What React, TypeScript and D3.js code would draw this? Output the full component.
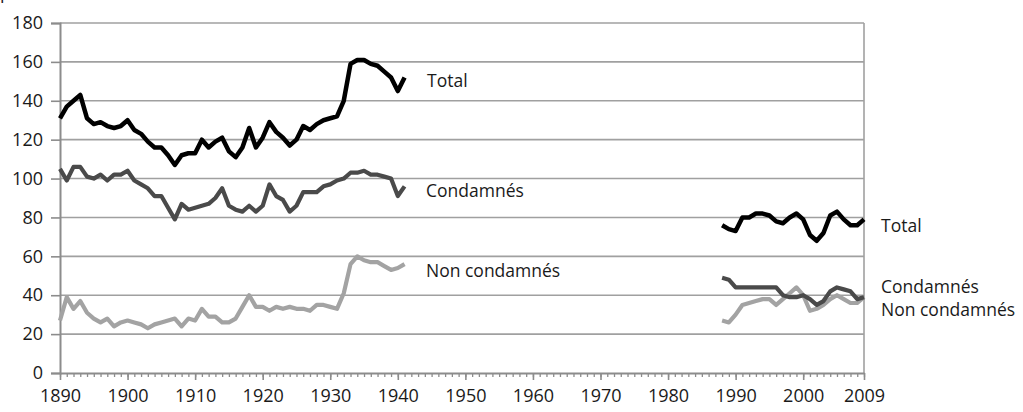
import React, { useEffect, useRef } from "react";
import * as d3 from "d3";

// years of each period
const yearsEarly = d3.range(1890, 1942);
const yearsLate = d3.range(1988, 2010);

// taux pour 100 000 habitants
const totalEarly = [131, 137, 140, 143, 131, 128, 129, 127, 126, 127, 130, 125, 123, 119, 116, 116, 112, 107, 112, 113, 113, 120, 116, 119, 121, 114, 111, 116, 126, 116, 121, 129, 124, 121, 117, 120, 127, 125, 128, 130, 131, 132, 140, 159, 161, 161, 159, 158, 155, 152, 145, 152];
const condEarly = [105, 99, 106, 106, 101, 100, 102, 99, 102, 102, 104, 99, 97, 95, 91, 91, 85, 79, 87, 84, 85, 86, 87, 90, 95, 86, 84, 83, 86, 83, 86, 97, 91, 89, 83, 86, 93, 93, 93, 96, 97, 99, 100, 103, 103, 104, 102, 102, 101, 100, 91, 96];
const nonCondEarly = [27, 39, 33, 37, 31, 28, 26, 28, 24, 26, 27, 26, 25, 23, 25, 26, 27, 28, 24, 28, 27, 33, 29, 29, 26, 26, 28, 34, 40, 34, 34, 32, 34, 33, 34, 33, 33, 32, 35, 35, 34, 33, 41, 56, 60, 58, 57, 57, 55, 53, 54, 56];

const totalLate = [76, 74, 73, 80, 80, 82, 82, 81, 78, 77, 80, 82, 79, 71, 68, 72, 81, 83, 79, 76, 76, 79];
const condLate = [49, 48, 44, 44, 44, 44, 44, 44, 44, 40, 39, 39, 40, 38, 35, 37, 42, 44, 43, 42, 38, 39];
const nonCondLate = [27, 26, 30, 35, 36, 37, 38, 38, 35, 38, 41, 44, 40, 32, 33, 35, 38, 40, 38, 36, 36, 39];

const yTicks = [0, 20, 40, 60, 80, 100, 120, 140, 160, 180];
const xTicks = [1890, 1900, 1910, 1920, 1930, 1940, 1950, 1960, 1970, 1980, 1990, 2000, 2009];

const seriesStyle = [
  { name: "Total", color: "#000000", width: 4.5 },
  { name: "Condamnés", color: "#4a4a4a", width: 4.2 },
  { name: "Non condamnés", color: "#a3a3a3", width: 4.2 },
];

export default function App() {
  const svgRef = useRef(null);

  useEffect(() => {
    const width = 1023;
    const height = 412;
    const left = 60, right = 864, top = 23, bottom = 373;
    const font = "'Open Sans', sans-serif";

    const svg = d3.select(svgRef.current)
      .attr("width", width)
      .attr("height", height)
      .style("font-family", font);
    svg.selectAll("*").remove();

    const x = d3.scaleLinear().domain([1890, 2009]).range([left, right]);
    const y = d3.scaleLinear().domain([0, 180]).range([bottom, top]);

    // caption, cut off at the top as in the source
    svg.append("text")
      .attr("x", 0)
      .attr("y", -1)
      .attr("font-size", 18)
      .attr("fill", "#222")
      .text("pour 100 000 habitants");

    // gridlines
    svg.append("g")
      .selectAll("line")
      .data(yTicks.filter(d => d > 0))
      .join("line")
      .attr("x1", left)
      .attr("x2", right)
      .attr("y1", d => y(d))
      .attr("y2", d => y(d))
      .attr("stroke", "#a0a0a0")
      .attr("stroke-width", 1.6);

    // right border
    svg.append("line")
      .attr("x1", right).attr("x2", right)
      .attr("y1", top).attr("y2", bottom)
      .attr("stroke", "#a0a0a0")
      .attr("stroke-width", 1.6);

    // y axis
    const yAxis = svg.append("g")
      .attr("transform", `translate(${left},0)`)
      .call(d3.axisLeft(y).tickValues(yTicks).tickSize(9).tickPadding(8));
    yAxis.select(".domain").attr("stroke", "#8c8c8c").attr("stroke-width", 2);
    yAxis.selectAll(".tick line").attr("stroke", "#8c8c8c").attr("stroke-width", 1.6);
    yAxis.selectAll("text")
      .attr("font-size", 18)
      .attr("font-family", font)
      .attr("fill", "#1a1a1a");

    // x axis minor ticks (every year)
    const xMinor = svg.append("g")
      .attr("transform", `translate(0,${bottom})`)
      .call(d3.axisBottom(x).tickValues(d3.range(1890, 2010)).tickSize(4).tickFormat(() => ""));
    xMinor.select(".domain").remove();
    xMinor.selectAll(".tick line").attr("stroke", "#8c8c8c").attr("stroke-width", 1.3);

    // x axis major ticks
    const xAxis = svg.append("g")
      .attr("transform", `translate(0,${bottom})`)
      .call(d3.axisBottom(x).tickValues(xTicks).tickSize(7).tickSizeOuter(0).tickPadding(9).tickFormat(d3.format("d")));
    xAxis.select(".domain").attr("stroke", "#8c8c8c").attr("stroke-width", 2);
    xAxis.selectAll(".tick line").attr("stroke", "#8c8c8c").attr("stroke-width", 1.6);
    xAxis.selectAll("text")
      .attr("font-size", 18)
      .attr("font-family", font)
      .attr("fill", "#1a1a1a");

    const line = d3.line<[number, number]>()
      .x(d => x(d[0]))
      .y(d => y(d[1]));

    const early = [totalEarly, condEarly, nonCondEarly];
    const late = [totalLate, condLate, nonCondLate];

    // draw light series first so darker ones sit on top
    [2, 1, 0].forEach(i => {
      const s = seriesStyle[i];
      [[yearsEarly, early[i]], [yearsLate, late[i]]].forEach(([yrs, vals]) => {
        svg.append("path")
          .datum(yrs.map((yr, j) => [yr, vals[j]] as [number, number]))
          .attr("d", line)
          .attr("fill", "none")
          .attr("stroke", s.color)
          .attr("stroke-width", s.width)
          .attr("stroke-linejoin", "round");
      });
    });

    // labels
    const labels = [
      { text: "Total", x: 427, y: 87 },
      { text: "Condamnés", x: 426, y: 197 },
      { text: "Non condamnés", x: 426, y: 277 },
      { text: "Total", x: 881, y: 232 },
      { text: "Condamnés", x: 881, y: 293 },
      { text: "Non condamnés", x: 881, y: 316 },
    ];
    svg.append("g")
      .selectAll("text")
      .data(labels)
      .join("text")
      .attr("x", d => d.x)
      .attr("y", d => d.y)
      .attr("font-size", 17.5)
      .attr("fill", "#1a1a1a")
      .text(d => d.text);
  }, []);

  return (
    <div style={{ position: "absolute", left: 0, top: 0 }}>
      <svg ref={svgRef}></svg>
    </div>
  );
}
